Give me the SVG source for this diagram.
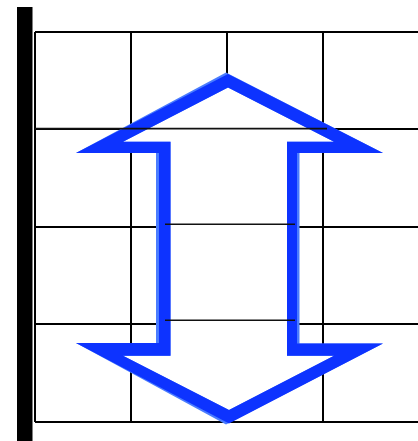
<svg xmlns="http://www.w3.org/2000/svg" width="418" height="441" viewBox="0 0 418 441">
<style>
.g{stroke:#000;stroke-width:2;fill:none}
.t{stroke:#111;stroke-width:1.6;fill:none}
</style>
<rect width="418" height="441" fill="#fff"/>
<rect id="bar" x="17" y="7" width="15.5" height="434" fill="#000"/>
<g id="grid" class="g">
<path d="M35,32V422M131,32V422M227,32V422M323,32V422"/>
<path d="M35,32H418M35,129H418M35,227H418M35,324H418M35,422H418"/>
</g>
<g id="arrow">
<path d="M226,72.5L76,153H156V343H76L226,424.5L383,343.5H299.5V153H383Z" fill="#4a7cff"/>
<path d="M228,87.5L123,141.7H170.5V355.7H123L229,410L334,355.7H287V141.7H334Z" fill="#fff"/>
<path fill-rule="evenodd" fill="#0d33ff" d="M228,74L76,153H159V343H76L229,423.5L383,343.5H297V153H383Z M228,87.5L123,141.7H170.5V355.7H123L229,410L334,355.7H287V141.7H334Z"/>
</g>
<g id="lines" class="t">
<path d="M35,128.6H327"/>
<path d="M165,224.3H295"/>
<path d="M165,320.3H295"/>
</g>
</svg>
